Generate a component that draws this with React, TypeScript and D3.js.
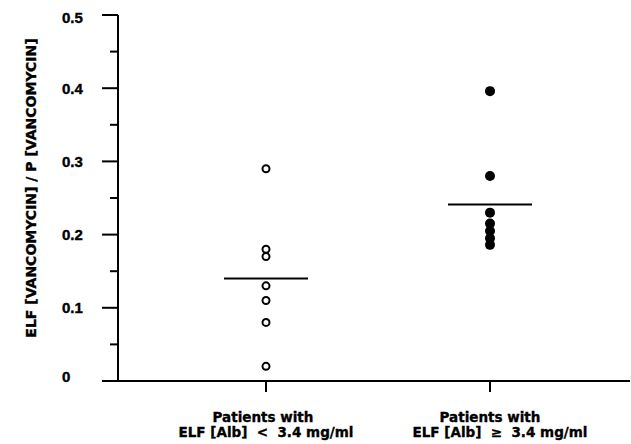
import React from "react";
import * as d3 from "d3";

const categories = ["low", "high"];
const categoryLine1 = ["Patients with", "Patients with"];
const categoryLine2 = ["ELF [Alb]  <  3.4 mg/ml", "ELF [Alb]  \u2265  3.4 mg/ml"];
const lowAlbValues = [0.29, 0.18, 0.17, 0.13, 0.11, 0.08, 0.02];
const highAlbValues = [0.396, 0.28, 0.23, 0.215, 0.205, 0.195, 0.186];
const means = [0.14, 0.241];
const yTicks = [0, 0.1, 0.2, 0.3, 0.4, 0.5];
const yMinorTicks = [0.05, 0.15, 0.25, 0.35, 0.45];
const yTitle = "ELF [VANCOMYCIN] / P [VANCOMYCIN]";

const W = 631;
const H = 444;
const axisX = 118;
const axisY = 381;

export default function App() {
  const y = d3.scaleLinear().domain([0, 0.5]).range([axisY, 15]);
  const x = d3.scalePoint<string>().domain(categories).range([266, 490]).padding(0);
  const font = "'DejaVu Sans', 'Liberation Sans', Arial, sans-serif";
  const tickFont = "'Liberation Sans', Arial, sans-serif";
  const fmt = (v: number) => (v === 0 ? "0" : d3.format(".1f")(v));

  return (
    <svg
      width={W}
      height={H}
      style={{ position: "absolute", left: 0, top: 0, background: "#fff" }}
      fontFamily={font}
      fontWeight="bold"
    >
      <rect x={0} y={0} width={W} height={H} fill="#fff" />
      {/* y axis */}
      <line x1={axisX} x2={axisX} y1={y(0.5)} y2={axisY} stroke="#000" strokeWidth={2} />
      {yTicks.map((t) => (
        <g key={"t" + t}>
          <line x1={axisX - 16} x2={axisX} y1={y(t)} y2={y(t)} stroke="#000" strokeWidth={2} />
          <text
            x={62}
            y={y(t) + (t === 0.5 ? 3 : t === 0 ? -4 : 0)}
            dy="0.36em"
            textAnchor="start"
            fontFamily={tickFont}
            fontSize={15}
            fill="#000"
            stroke="#000"
            strokeWidth={0.4}
          >
            {fmt(t)}
          </text>
        </g>
      ))}
      {yMinorTicks.map((t) => (
        <line key={"m" + t} x1={axisX - 8} x2={axisX} y1={y(t)} y2={y(t)} stroke="#000" strokeWidth={2} />
      ))}
      <text
        transform={`translate(36, 188) rotate(-90)`}
        textAnchor="middle"
        fontSize={14}
        fill="#000"
        stroke="#000"
        strokeWidth={0.35}
      >
        {yTitle}
      </text>
      {/* x axis */}
      <line x1={axisX - 16} x2={630} y1={axisY} y2={axisY} stroke="#000" strokeWidth={2} />
      {categories.map((c, i) => (
        <g key={c}>
          <line x1={x(c)!} x2={x(c)!} y1={axisY} y2={axisY + 11} stroke="#000" strokeWidth={2} />
          <text
            x={x(c)! - (i === 0 ? 3 : 0)}
            y={422}
            textAnchor="middle"
            fontSize={13.5}
            fill="#000"
            stroke="#000"
            strokeWidth={0.35}
          >
            {categoryLine1[i]}
          </text>
          <text
            x={x(c)! + (i === 1 ? 10 : 0)}
            y={437}
            textAnchor="middle"
            fontSize={13.5}
            fill="#000"
            stroke="#000"
            strokeWidth={0.35}
            style={{ whiteSpace: "pre" }}
          >
            {categoryLine2[i]}
          </text>
        </g>
      ))}
      {/* mean lines */}
      {categories.map((c, i) => (
        <line
          key={"mean" + c}
          x1={x(c)! - 42}
          x2={x(c)! + 42}
          y1={y(means[i])}
          y2={y(means[i])}
          stroke="#000"
          strokeWidth={2}
        />
      ))}
      {/* points */}
      {lowAlbValues.map((v, i) => (
        <circle key={"l" + i} cx={x("low")!} cy={y(v)} r={3.5} fill="#fff" stroke="#000" strokeWidth={2} />
      ))}
      {highAlbValues.map((v, i) => (
        <circle key={"h" + i} cx={x("high")!} cy={y(v)} r={5} fill="#000" />
      ))}
    </svg>
  );
}
